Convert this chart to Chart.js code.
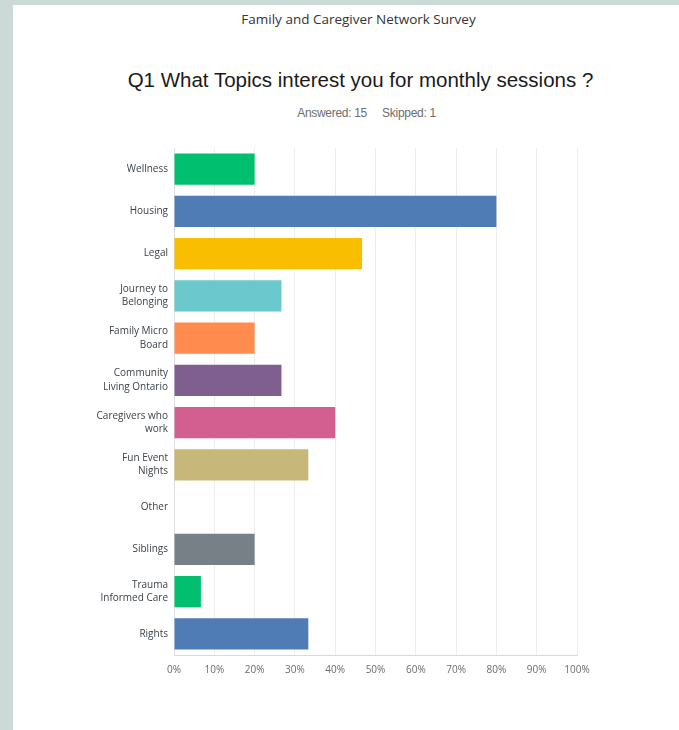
<!DOCTYPE html>
<html>
<head>
<meta charset="utf-8">
<script src="https://cdn.jsdelivr.net/npm/chart.js@4/dist/chart.umd.min.js"></script>
<style>
  html, body { margin: 0; padding: 0; }
  body { width: 679px; height: 730px; background: #cbdad7; position: relative; overflow: hidden; }
  #panel { position: absolute; left: 13px; top: 5px; width: 666px; height: 725px; background: #ffffff; }
  .t { position: absolute; left: 0; width: 679px; text-align: center; white-space: nowrap; }
  #survey { top: 10px; font: 13.5px "Open Sans", sans-serif; color: #333333; left: 19px; }
  #q { top: 68px; font: 20.5px "Liberation Sans", Arial, sans-serif; color: #1a1a1a; left: 21px; }
  #meta { top: 106px; font: 12px "Liberation Sans", Arial, sans-serif; color: #6d6e71; left: 27px; letter-spacing: -0.3px; }
  #wrap { position: absolute; left: 0; top: 130px; width: 679px; height: 600px; }
</style>
</head>
<body>
<div id="panel"></div>
<div class="t" id="survey">Family and Caregiver Network Survey</div>
<div class="t" id="q">Q1 What Topics interest you for monthly sessions ?</div>
<div class="t" id="meta">Answered: 15&nbsp;&nbsp;&nbsp;&nbsp;&nbsp;Skipped: 1</div>
<div id="wrap"><canvas id="c" width="679" height="600"></canvas></div>
<script>
const categories = [
  "Wellness",
  "Housing",
  "Legal",
  ["Journey to", "Belonging"],
  ["Family Micro", "Board"],
  ["Community", "Living Ontario"],
  ["Caregivers who", "work"],
  ["Fun Event", "Nights"],
  "Other",
  "Siblings",
  ["Trauma", "Informed Care"],
  "Rights"
];
const percentValues = [20, 80, 46.67, 26.67, 20, 26.67, 40, 33.33, 0, 20, 6.67, 33.33];
const barColors = ["#00bf6f", "#507cb6", "#f9be00", "#6bc8cd", "#ff8b4f", "#7f5f90",
                   "#d25f90", "#c7b879", "#cccccc", "#768086", "#00bf6f", "#507cb6"];
const tickValues = [0, 10, 20, 30, 40, 50, 60, 70, 80, 90, 100];

new Chart(document.getElementById("c"), {
  type: "bar",
  data: {
    labels: categories,
    datasets: [{
      data: percentValues,
      backgroundColor: barColors,
      borderWidth: 0,
      categoryPercentage: 1,
      barPercentage: 0.74
    }]
  },
  options: {
    indexAxis: "y",
    responsive: false,
    animation: false,
    layout: { padding: { left: 0, right: 102, top: 18, bottom: 45 } },
    plugins: { legend: { display: false }, tooltip: { enabled: false } },
    scales: {
      x: {
        min: 0, max: 100,
        afterBuildTicks: (s) => { s.ticks = tickValues.map(v => ({ value: v })); },
        afterFit: (s) => { s.height = 30; },
        grid: { color: "#ededed", drawTicks: false, lineWidth: 1 },
        border: { color: "#d9d9d9", width: 1 },
        ticks: {
          padding: 9,
          color: "#6b6b6b",
          font: { family: "Open Sans", size: 10 },
          callback: (v) => v + "%"
        }
      },
      y: {
        afterFit: (s) => { s.width = 174; },
        grid: { display: false, drawTicks: false },
        border: { color: "#e0e0e0", width: 1 },
        ticks: {
          padding: 6,
          color: "#3b4249",
          font: { family: "Open Sans", size: 10, lineHeight: 1.35 }
        }
      }
    }
  }
});
</script>
</body>
</html>
